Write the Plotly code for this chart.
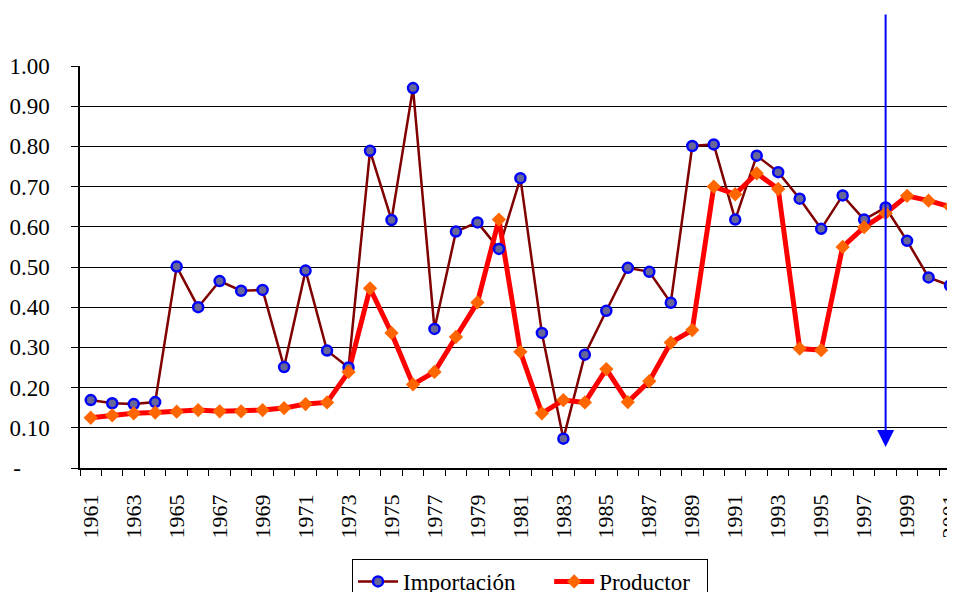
import plotly.graph_objects as go

# ---------------- data ----------------
years = list(range(1961, 2002))
importacion = [0.169, 0.161, 0.159, 0.164, 0.501, 0.400, 0.465, 0.441, 0.443, 0.251,
               0.491, 0.292, 0.250, 0.789, 0.617, 0.945, 0.346, 0.588, 0.611, 0.545,
               0.721, 0.336, 0.073, 0.282, 0.391, 0.498, 0.488, 0.411, 0.801, 0.805,
               0.618, 0.777, 0.736, 0.670, 0.595, 0.678, 0.618, 0.648, 0.565, 0.474,
               0.454]
productor = [0.125, 0.131, 0.136, 0.138, 0.140, 0.144, 0.141, 0.141, 0.144, 0.149,
             0.159, 0.163, 0.239, 0.447, 0.336, 0.208, 0.239, 0.326, 0.412, 0.618,
             0.289, 0.136, 0.169, 0.163, 0.246, 0.164, 0.216, 0.312, 0.343, 0.700,
             0.681, 0.733, 0.694, 0.297, 0.293, 0.550, 0.599, 0.634, 0.677, 0.665,
             0.650]
x_tick_years = list(range(1961, 2002, 2))
y_tick_vals = [0.0, 0.1, 0.2, 0.3, 0.4, 0.5, 0.6, 0.7, 0.8, 0.9, 1.0]
y_tick_text = ["-\u00a0\u00a0\u00a0\u00a0\u00a0", "0.10", "0.20", "0.30", "0.40", "0.50",
               "0.60", "0.70", "0.80", "0.90", "1.00"]
arrow_year = 1998
arrow_tip_value = 0.052
series_names = ["Importación", "Productor"]

# ---------------- styles ----------------
FONT = "Liberation Serif, Times New Roman, serif"
OFF = 8  # page body margin offset compensation
imp_line = dict(color="#800000", width=2.5)
imp_marker = dict(symbol="circle", size=10, color="#666699",
                  line=dict(color="#0000ff", width=2.5))
pro_line = dict(color="#ff0000", width=5)
pro_marker = dict(symbol="diamond", size=11, color="#ff6600",
                  line=dict(width=0))
NBSP = "\u00a0"

fig = go.Figure()
# lines first (Excel draws all lines below all markers)
fig.add_trace(go.Scatter(x=years, y=importacion, mode="lines", line=imp_line,
                         showlegend=False, hoverinfo="skip"))
fig.add_trace(go.Scatter(x=years, y=productor, mode="lines", line=pro_line,
                         showlegend=False, hoverinfo="skip"))
fig.add_trace(go.Scatter(x=years, y=importacion, mode="markers", marker=imp_marker,
                         name=series_names[0], showlegend=False))
fig.add_trace(go.Scatter(x=years, y=productor, mode="markers", marker=pro_marker,
                         name=series_names[1], showlegend=False))
# legend entries
fig.add_trace(go.Scatter(x=[None], y=[None], mode="lines+markers", line=imp_line,
                         marker=imp_marker, name=series_names[0] + NBSP * 5))
fig.add_trace(go.Scatter(x=[None], y=[None], mode="lines+markers", line=pro_line,
                         marker=pro_marker, name=series_names[1] + NBSP * 2))

fig.add_annotation(x=arrow_year, y=arrow_tip_value, xref="x", yref="y",
                   text="", showarrow=True, ax=0, ay=-434, axref="pixel", ayref="pixel",
                   arrowhead=2, arrowsize=1.7, arrowwidth=2, arrowcolor="#0000ff",
                   standoff=0)

W, H = 955, 592
fig.update_layout(
    width=W, height=H,
    margin=dict(l=80 - OFF, r=OFF, t=66 - OFF, b=H - (467.8 - OFF), autoexpand=False),
    paper_bgcolor="white", plot_bgcolor="white",
    font=dict(family=FONT, size=22, color="black"),
    legend=dict(orientation="h", xref="container", yref="container",
                x=(352 - OFF) / W, xanchor="left", y=1 - (559 - OFF) / H,
                yanchor="top",
                bordercolor="black", borderwidth=1, bgcolor="white",
                font=dict(family=FONT, size=23, color="black"),
                itemwidth=40, tracegroupgap=0),
    xaxis=dict(range=[1960.5, 2001.23], tickmode="array", tickvals=x_tick_years,
               ticktext=[str(y) for y in x_tick_years], tickangle=-90,
               ticks="outside", ticklen=0, showgrid=False, zeroline=False,
               showline=True, linecolor="black", linewidth=1.5, automargin=False,
               ticklabelstandoff=16, ticklabeloverflow="allow",
               minor=dict(tick0=1960.5, dtick=1, ticks="outside", ticklen=6,
                          tickcolor="black", tickwidth=1, showgrid=False),
               tickfont=dict(family=FONT, size=22, color="black")),
    yaxis=dict(range=[0, 1.0], tickmode="array", tickvals=y_tick_vals,
               ticktext=y_tick_text, ticks="outside", ticklen=7, tickcolor="black",
               showgrid=True, gridcolor="black", gridwidth=1, zeroline=False,
               showline=True, linecolor="black", linewidth=1.5, automargin=False,
               ticklabelstandoff=17,
               tickfont=dict(family=FONT, size=23, color="black")),
)

fig.write_html("out.html")
